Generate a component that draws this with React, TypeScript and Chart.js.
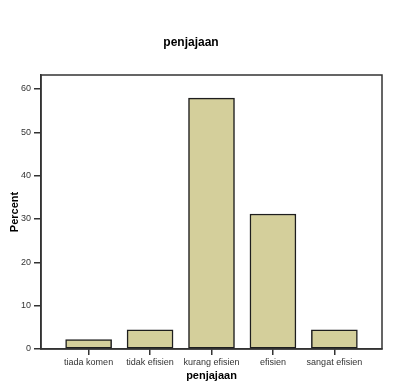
import React, { useEffect, useRef } from "react";
import { Chart, registerables } from "chart.js";

Chart.register(...registerables);

const categories = ["tiada komen", "tidak efisien", "kurang efisien", "efisien", "sangat efisien"];
const percentValues = [2.2, 4.45, 57.9, 31.15, 4.45];
const yTicks = [0, 10, 20, 30, 40, 50, 60];

const FONT = "'Liberation Sans', Arial, sans-serif";

const framePlugin = {
  id: "frame",
  afterDraw(chart: any) {
    const { ctx, chartArea } = chart;
    ctx.save();
    ctx.strokeStyle = "#333";
    ctx.lineWidth = 1.5;
    ctx.strokeRect(chartArea.left, chartArea.top, chartArea.right - chartArea.left, chartArea.bottom - chartArea.top);
    ctx.restore();
  },
};

export default function App() {
  const ref = useRef<HTMLCanvasElement | null>(null);

  useEffect(() => {
    document.body.style.margin = "0";
    const canvas = ref.current;
    if (!canvas) return;
    const chart = new Chart(canvas, {
      type: "bar",
      data: {
        datasets: [
          {
            label: "Percent",
            data: categories.map((_, i) => ({ x: i, y: percentValues[i] })),
            backgroundColor: "#d4cf9b",
            borderColor: "#1e1e1e",
            borderWidth: 1.5,
            borderSkipped: false,
            barThickness: 46,
          },
        ],
      },
      plugins: [framePlugin],
      options: {
        responsive: false,
        animation: false,
        maintainAspectRatio: false,
        layout: { padding: { left: 0, right: 18, top: 0, bottom: 0 } },
        plugins: {
          legend: { display: false },
          tooltip: { enabled: false },
          title: {
            display: true,
            text: "penjajaan",
            color: "#000",
            font: { family: FONT, size: 12, weight: "bold" },
            padding: { top: 35, bottom: 25.6 },
          },
        },
        scales: {
          x: {
            type: "linear",
            offset: false,
            min: -0.775,
            max: 4.775,
            afterFit(scale: any) {
              scale.height = 42;
            },
            afterBuildTicks(scale: any) {
              scale.ticks = categories.map((_, i) => ({ value: i }));
            },
            ticks: {
              stepSize: 1,
              includeBounds: false,
              autoSkip: false,
              maxRotation: 0,
              padding: 2,
              color: "#333",
              font: { family: FONT, size: 9 },
              callback: (v: any) => (Number.isInteger(v) ? categories[v] : ""),
            },
            grid: { display: true, offset: false, drawOnChartArea: false, drawTicks: true, tickLength: 6, color: "#333", lineWidth: 1.5 },
            border: { display: true, color: "#333", width: 1.5 },
            title: {
              display: true,
              text: "penjajaan",
              color: "#000",
              font: { family: FONT, size: 11, weight: "bold" },
              padding: { top: 0, bottom: 8.4 },
            },
          },
          y: {
            min: 0,
            max: 63.23,
            afterFit(scale: any) {
              scale.width = 41;
            },
            afterBuildTicks(scale: any) {
              scale.ticks = yTicks.map((v) => ({ value: v }));
            },
            ticks: {
              stepSize: 10,
              includeBounds: false,
              padding: 3,
              color: "#333",
              font: { family: FONT, size: 9 },
            },
            grid: { display: true, drawOnChartArea: false, drawTicks: true, tickLength: 7, color: "#333", lineWidth: 1.5 },
            border: { display: true, color: "#333", width: 1.5 },
            title: {
              display: true,
              text: "Percent",
              color: "#000",
              font: { family: FONT, size: 11, weight: "bold" },
              padding: { top: 8.4, bottom: 0 },
            },
          },
        },
      } as any,
    });
    return () => chart.destroy();
  }, []);

  return (
    <div style={{ width: 400, height: 391, background: "#fff" }}>
      <canvas ref={ref} width={400} height={391} style={{ display: "block" }} />
    </div>
  );
}
